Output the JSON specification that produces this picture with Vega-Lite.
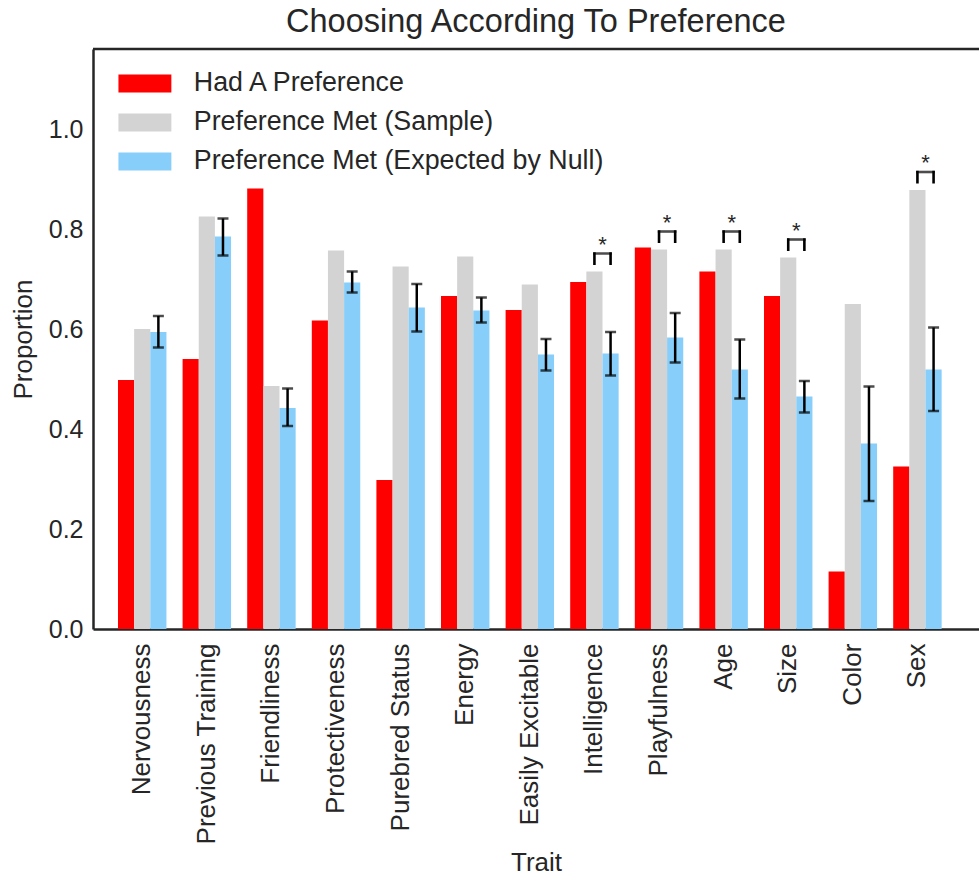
{
  "$schema": "https://vega.github.io/schema/vega-lite/v6.json",
  "width": 886,
  "height": 580,
  "autosize": {"type": "none"},
  "padding": {"left": 93, "top": 49, "right": 0, "bottom": 252},
  "background": "white",
  "title": {
    "text": "Choosing According To Preference",
    "font": "Liberation Sans",
    "fontSize": 32.5,
    "fontWeight": "normal",
    "color": "#262626",
    "anchor": "middle",
    "offset": 9
  },
  "config": {
    "view": {"stroke": null},
    "font": "Liberation Sans",
    "axis": {
      "domainColor": "#262626",
      "domainWidth": 2.5,
      "ticks": false,
      "grid": false,
      "labelColor": "#262626",
      "titleColor": "#262626",
      "labelFont": "Liberation Sans",
      "titleFont": "Liberation Sans",
      "labelFontSize": 25,
      "labelLimit": 400,
      "titleFontSize": 26,
      "titleFontWeight": "normal"
    }
  },
  "data": {
    "values": [
      {"trait": "Nervousness", "had": 0.498, "sample": 0.600, "expected": 0.594, "lo": 0.563, "hi": 0.626, "sig": false},
      {"trait": "Previous Training", "had": 0.540, "sample": 0.825, "expected": 0.785, "lo": 0.747, "hi": 0.821, "sig": false},
      {"trait": "Friendliness", "had": 0.881, "sample": 0.486, "expected": 0.442, "lo": 0.406, "hi": 0.481, "sig": false},
      {"trait": "Protectiveness", "had": 0.617, "sample": 0.757, "expected": 0.693, "lo": 0.673, "hi": 0.715, "sig": false},
      {"trait": "Purebred Status", "had": 0.298, "sample": 0.725, "expected": 0.643, "lo": 0.595, "hi": 0.690, "sig": false},
      {"trait": "Energy", "had": 0.666, "sample": 0.745, "expected": 0.637, "lo": 0.613, "hi": 0.663, "sig": false},
      {"trait": "Easily Excitable", "had": 0.638, "sample": 0.689, "expected": 0.549, "lo": 0.517, "hi": 0.580, "sig": false},
      {"trait": "Intelligence", "had": 0.694, "sample": 0.715, "expected": 0.551, "lo": 0.507, "hi": 0.594, "sig": true},
      {"trait": "Playfulness", "had": 0.763, "sample": 0.759, "expected": 0.583, "lo": 0.533, "hi": 0.632, "sig": true},
      {"trait": "Age", "had": 0.715, "sample": 0.759, "expected": 0.519, "lo": 0.461, "hi": 0.579, "sig": true},
      {"trait": "Size", "had": 0.666, "sample": 0.743, "expected": 0.465, "lo": 0.433, "hi": 0.496, "sig": true},
      {"trait": "Color", "had": 0.115, "sample": 0.650, "expected": 0.371, "lo": 0.256, "hi": 0.485, "sig": false},
      {"trait": "Sex", "had": 0.325, "sample": 0.878, "expected": 0.519, "lo": 0.436, "hi": 0.603, "sig": true}
    ]
  },
  "layer": [
    {
      "transform": [{"fold": ["had", "sample", "expected"], "as": ["series", "value"]}],
      "mark": {"type": "bar"},
      "encoding": {
        "x": {
          "field": "trait",
          "type": "nominal",
          "sort": null,
          "scale": {"paddingInner": 0.25, "paddingOuter": 0.4826, "align": 0.401},
          "axis": {"title": "Trait", "labelAngle": -90, "labelFontSize": 26, "labelPadding": 14, "titlePadding": 20}
        },
        "xOffset": {
          "field": "series",
          "type": "nominal",
          "scale": {"domain": ["had", "sample", "expected"], "paddingInner": 0, "paddingOuter": 0}
        },
        "y": {
          "field": "value",
          "type": "quantitative",
          "scale": {"domain": [0, 1.16], "nice": false},
          "axis": {
            "title": "Proportion",
            "values": [0, 0.2, 0.4, 0.6, 0.8, 1.0],
            "format": ".1f",
            "labelPadding": 10,
            "titlePadding": 12
          }
        },
        "color": {
          "field": "series",
          "type": "nominal",
          "scale": {"domain": ["had", "sample", "expected"], "range": ["#ff0000", "#d3d3d3", "#87cefa"]},
          "legend": {
            "title": null,
            "orient": "none",
            "legendX": 38.5,
            "legendY": 21,
            "padding": 0,
            "symbolType": "M-2.94,-1H2.94V1H-2.94Z",
            "symbolSize": 324,
            "symbolStrokeWidth": 0,
            "labelFont": "Liberation Sans",
            "labelFontSize": 26.8,
            "labelColor": "#262626",
            "labelLimit": 500,
            "labelOffset": 35.5,
            "rowPadding": 11,
            "labelExpr": "datum.value === 'had' ? 'Had A Preference' : datum.value === 'sample' ? 'Preference Met (Sample)' : 'Preference Met (Expected by Null)'"
          }
        }
      }
    },
    {
      "mark": {"type": "rule", "color": "black", "strokeWidth": 2.5},
      "encoding": {
        "x": {"field": "trait", "type": "nominal", "sort": null},
        "xOffset": {"datum": "expected"},
        "y": {"field": "lo", "type": "quantitative"},
        "y2": {"field": "hi"}
      }
    },
    {
      "transform": [{"fold": ["lo", "hi"], "as": ["end", "bound"]}],
      "mark": {"type": "tick", "orient": "horizontal", "size": 11, "thickness": 2.5, "color": "black"},
      "encoding": {
        "x": {"field": "trait", "type": "nominal", "sort": null},
        "xOffset": {"datum": "expected"},
        "y": {"field": "bound", "type": "quantitative"}
      }
    },
    {
      "transform": [
        {"filter": "datum.sig"},
        {"fold": ["sample", "expected"], "as": ["leg", "legValue"]}
      ],
      "mark": {"type": "rule", "color": "black", "strokeWidth": 2.6, "yOffset": -6.5, "y2Offset": -19.2},
      "encoding": {
        "x": {"field": "trait", "type": "nominal", "sort": null},
        "xOffset": {"field": "leg", "type": "nominal"},
        "y": {"field": "sample", "type": "quantitative"},
        "y2": {"field": "sample"}
      }
    },
    {
      "transform": [{"filter": "datum.sig"}],
      "mark": {"type": "tick", "orient": "horizontal", "size": 18.6, "thickness": 2.6, "color": "black", "xOffset": 8.08, "yOffset": -18},
      "encoding": {
        "x": {"field": "trait", "type": "nominal", "sort": null},
        "y": {"field": "sample", "type": "quantitative"}
      }
    },
    {
      "transform": [{"filter": "datum.sig"}],
      "mark": {"type": "text", "text": "*", "font": "Liberation Sans", "fontSize": 22, "color": "#262626", "baseline": "alphabetic", "align": "center", "xOffset": 8.08, "yOffset": -20},
      "encoding": {
        "x": {"field": "trait", "type": "nominal", "sort": null},
        "y": {"field": "sample", "type": "quantitative"}
      }
    },
    {
      "data": {"values": [{}]},
      "mark": {"type": "rule", "color": "#262626", "strokeWidth": 2.5},
      "encoding": {"y": {"datum": 1.16, "type": "quantitative"}}
    }
  ]
}
